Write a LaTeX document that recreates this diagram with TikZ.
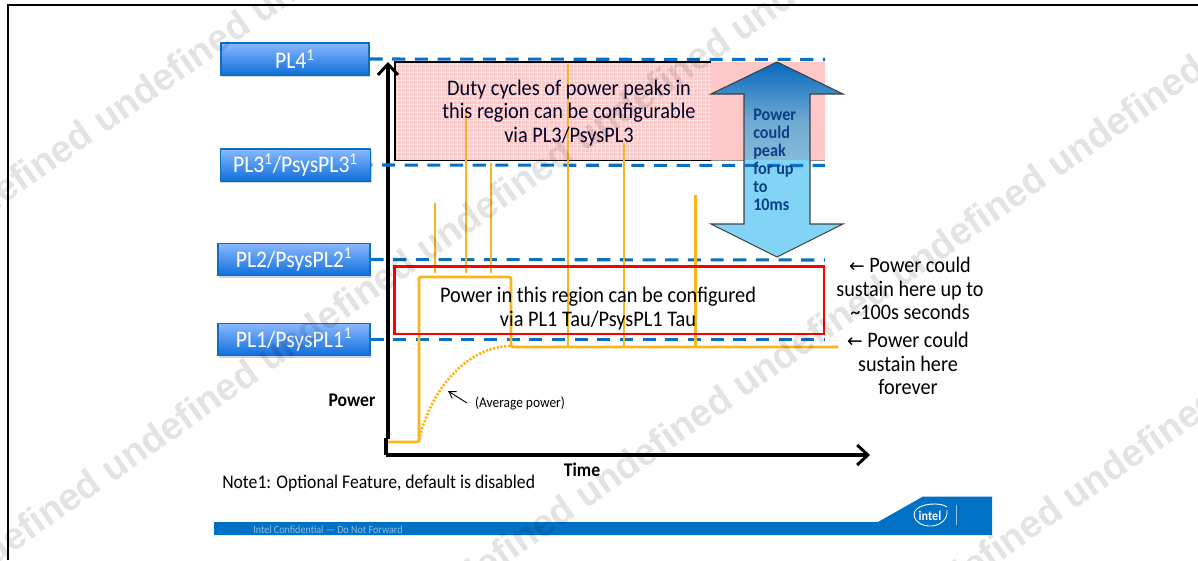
\documentclass[tikz,border=0pt]{standalone}
\usepackage{fontspec}
\setmainfont[FakeStretch=0.913]{Carlito}
\newfontfamily\arrowfont{DejaVu Sans}
\newfontfamily\wmfont{Liberation Sans}
\usetikzlibrary{arrows.meta,shadows}
\definecolor{dashblue}{HTML}{0B6FC2}
\definecolor{trace}{HTML}{FBB41A}
\definecolor{barblue}{HTML}{0071C5}
\definecolor{lightb}{HTML}{82D4F7}
\definecolor{midb}{HTML}{85BAD9}
\definecolor{midc}{HTML}{6FAAD2}
\definecolor{darkb}{HTML}{0668BE}
\definecolor{plTop}{HTML}{8AB8FF}
\definecolor{plBot}{HTML}{0E6FDC}
\definecolor{peaktext}{HTML}{0A4088}
\definecolor{pinkfill}{HTML}{FFC8C8}
\pgfdeclareverticalshading{peakshade}{100bp}{
  color(0bp)=(lightb); color(50bp)=(lightb);
  color(50.01bp)=(midb); color(60bp)=(midc); color(75bp)=(darkb); color(100bp)=(darkb)}
\tikzset{
  plbox/.style={draw=dashblue,line width=0.8pt,top color=plTop,bottom color=plBot,text=white,font=\fontsize{17.8}{20}\selectfont,inner sep=0pt,
    drop shadow={shadow xshift=0.6pt,shadow yshift=-1.5pt,opacity=.35}},
  levelline/.style={draw=dashblue,line width=2.3pt,dash pattern=on 9.8pt off 7.2pt},
  axisline/.style={draw=black,line width=2.4pt},
  axistip/.style={-{Straight Barb[length=8pt,width=15pt,line width=2.2pt]}},
  traceline/.style={draw=trace,line width=2pt},
  mainlabel/.style={font=\fontsize{16.7}{17.6}\selectfont,align=center,inner sep=0pt},
  sidelabel/.style={font=\fontsize{16.6}{17.6}\selectfont,align=center,inner sep=0pt},
  boldlabel/.style={font=\bfseries\fontsize{14.5}{16}\selectfont,inner sep=0pt},
  wm/.style={font=\wmfont\bfseries\fontsize{28.5}{30}\selectfont,text=black,text opacity=.11,rotate=35,inner sep=0pt,anchor=east},
}
\begin{document}
\begin{tikzpicture}[x=0.75pt,y=-0.75pt]
\useasboundingbox (0,0) rectangle (1198,560);
% frame
\draw[black,line width=1.6pt] (8,560) -- (8,5) -- (1198,5);
% pink region
\fill[pinkfill] (395,62) rectangle (825,160.5);
\begin{scope}
\clip (395,62) rectangle (711,160.5);
\foreach \gx in {397,401,...,711} \draw[white,opacity=.4,line width=.4pt] (\gx,62) -- (\gx,161);
\foreach \gy in {64,68,...,160} \draw[white,opacity=.4,line width=.4pt] (395,\gy) -- (711,\gy);
\end{scope}
\draw[black,line width=.8pt] (711,62) -- (395,62) -- (395,160.5) -- (711,160.5);
\draw[black!45,line width=.5pt] (711,160.5) -- (825,160.5);
% peak arrow
\draw[black!75,line width=.8pt,shading=peakshade] (777,62) -- (843,94) -- (810,94) -- (810,224) -- (843,224) -- (777,257) -- (711,224) -- (744,224) -- (744,94) -- (711,94) -- cycle;
% axes
\coordinate (origin) at (388,439);
\coordinate (ytip) at (388,62);
\coordinate (xstart) at (386,455);
\coordinate (xtip) at (870,455);
\draw[axisline,axistip] (origin) -- (ytip);
\draw[axisline] (386,438) -- (xstart);
\draw[axisline,axistip] (xstart) -- (xtip);
% boxes
\node[plbox,minimum width=111pt,minimum height=24pt] (pl4) at (295,59) {PL4\textsuperscript{1}};
\node[plbox,minimum width=113pt,minimum height=24pt] (pl3) at (295.5,165) {PL3\textsuperscript{1}/PsysPL3\textsuperscript{1}};
\node[plbox,minimum width=114pt,minimum height=24pt] (pl2) at (294,259.5) {PL2/PsysPL2\textsuperscript{1}};
\node[plbox,minimum width=114pt,minimum height=24pt] (pl1) at (294,339.5) {PL1/PsysPL1\textsuperscript{1}};
% level lines
\coordinate (e4) at (825,59.5);
\coordinate (e3) at (825,165.5);
\coordinate (e2) at (825,260);
\coordinate (e1) at (825,339.5);
\draw[levelline] (pl4.east) -- (e4);
\draw[levelline,dash phase=9pt] (pl3.east) -- (e3);
\draw[levelline] (pl2.east) -- (e2);
\draw[levelline] (pl1.east) -- (e1);
% power trace
\draw[traceline,rounded corners=1.5pt] (388,442) -- (419,442) -- (419,277) -- (511,277) -- (511,347) -- (838,347);
\foreach \sx/\sy in {435/203,466/110,491/163} \draw[traceline] (\sx,\sy) -- (\sx,273);
\foreach \sx/\sy in {568/64,624/144,695.5/195} \draw[traceline] (\sx,\sy) -- (\sx,346);
\draw[trace,line width=2pt,dash pattern=on 1.6pt off 1.2pt] (419,440) .. controls (432,385) and (470,346) .. (511,346);
% red region
\draw[red,line width=2pt] (394.5,266.5) rectangle (824,334);
% small arrow
\coordinate (avgtail) at (467,403);
\coordinate (avgtip) at (448,391);
\draw[black,line width=.7pt,-{Straight Barb[length=5pt,width=6pt]}] (avgtail) -- (avgtip);
% texts
\node[mainlabel,text=black!85!blue] (duty) at (569,113) {Duty cycles of power peaks in\\[0pt]this region can be configurable\\[0pt]via PL3/PsysPL3};
\node[mainlabel] (region) at (598,308.5) {Power in this region can be configured\\[0pt]via PL1 Tau/PsysPL1 Tau};
\node[font=\bfseries\fontsize{13.3}{13.5}\selectfont,text=peaktext,align=left,inner sep=0pt,anchor=north west] (peak) at (753,108.5) {Power\\could\\peak\\for up\\to\\10ms};
\node[sidelabel] (side2) at (910,288.5) {{\arrowfont\fontsize{14}{17.6}\selectfont ←} Power could\\[0pt]sustain here up to\\[0pt]\textasciitilde100s seconds};
\node[sidelabel] (side1) at (908,363.5) {{\arrowfont\fontsize{14}{17.6}\selectfont ←} Power could\\[0pt]sustain here\\[0pt]forever};
\node[boldlabel] (power) at (352,400) {Power};
\node[boldlabel] (time) at (582,470) {Time};
\node[font=\fontsize{11}{12}\selectfont,inner sep=0pt] (avg) at (520,403.5) {(Average power)};
\node[font=\fontsize{14.5}{16}\selectfont,inner sep=0pt,anchor=west] (note) at (222,483) {Note1: Optional Feature, default is disabled};
% footer
\fill[barblue] (214,522) -- (878,522) -- (923,496.5) -- (992,496.5) -- (992,535) -- (214,535) -- cycle;
\node[font=\fontsize{8.3}{9}\selectfont,text=white!55!barblue,inner sep=0pt,anchor=west] (conf) at (253,530) {Intel Confidential — Do Not Forward};
\node[font=\bfseries\fontsize{10}{10}\selectfont,text=white,inner sep=0pt] (logo) at (930,515.5) {intel};
\draw[white,line width=.7pt] (947,507) .. controls (941,502) and (920,503) .. (915,511) .. controls (911,520) and (922,527) .. (932,526) .. controls (940,525) and (948,520) .. (947,510);
\draw[white!60!barblue,line width=.6pt] (956,505) -- (956,525);
% watermark
\begin{scope}
\clip (0,0) rectangle (1198,560);
\node[wm] (wa) at (403,-91) {undefined undefined undefined};
\node[wm] (wb) at (883,-73) {undefined undefined undefined undefined undefined undefined};
\node[wm] (wc) at (1357,-47) {undefined undefined undefined undefined undefined undefined};
\node[wm] (wd) at (1215,395) {undefined undefined};
\end{scope}
\end{tikzpicture}
\end{document}
